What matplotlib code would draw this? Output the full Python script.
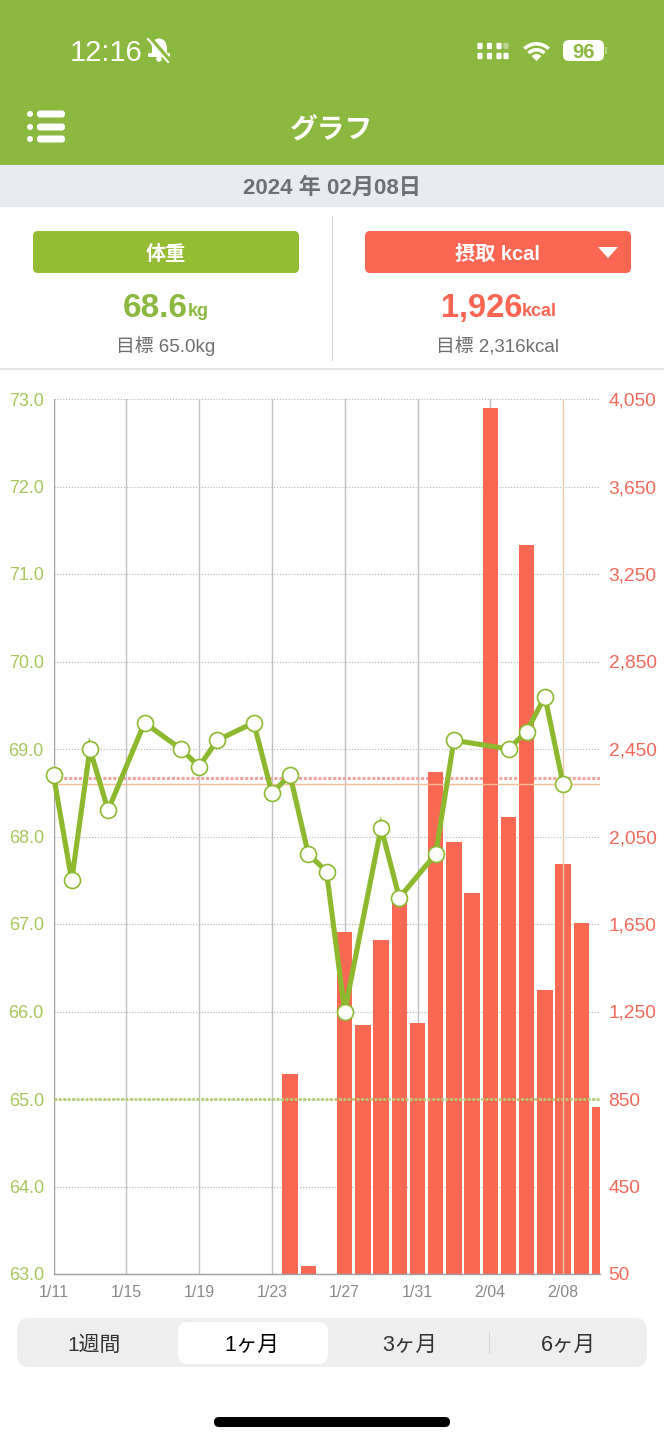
import matplotlib
matplotlib.use("Agg")
import matplotlib.pyplot as plt
from matplotlib.patches import Rectangle, FancyBboxPatch, Wedge, Circle, Polygon

plt.rcParams["font.family"] = ["Liberation Sans", "Noto Sans CJK JP", "DejaVu Sans"]

GREEN = "#8BB83F"
LINE_GREEN = "#8DB92F"
BTN_GREEN = "#94BC34"
RED = "#FA6652"
BAR_RED = "#F96853"
TICK_GREEN = "#A9C65C"

# days counted from 1/11
weight_days = [0, 1, 2, 3, 5, 7, 8, 9, 11, 12, 13, 14, 15, 16, 18, 19, 21, 22, 25, 26, 27, 28]
weight_vals = [68.7, 67.5, 69.0, 68.3, 69.3, 69.0, 68.8, 69.1, 69.3, 68.5, 68.7,
               67.8, 67.6, 66.0, 68.1, 67.3, 67.8, 69.1, 69.0, 69.2, 69.6, 68.6]
kcal_days = [13, 14, 16, 17, 18, 19, 20, 21, 22, 23, 24, 25, 26, 27, 28, 29, 30]
kcal_vals = [964, 87, 1613, 1188, 1577, 1770, 1197, 2345, 2025, 1792, 4009, 2141, 3383, 1348, 1926, 1655, 813]

x_ticks = [0, 4, 8, 12, 16, 20, 24, 28]
x_labels = ["1/11", "1/15", "1/19", "1/23", "1/27", "1/31", "2/04", "2/08"]
weight_ticks = [63, 64, 65, 66, 67, 68, 69, 70, 71, 72, 73]
kcal_ticks = [50, 450, 850, 1250, 1650, 2050, 2450, 2850, 3250, 3650, 4050]

weight_goal = 65.0
kcal_goal = 2316
current_day = 28
current_weight = 68.6

W, H = 664, 1440
fig = plt.figure(figsize=(W / 100, H / 100), dpi=100, facecolor="white")

# chart, bars sit on the kcal axis below the weight axis
L, R, T, B = 53.5, 599.5, 399, 1274
ax_k = fig.add_axes([L / W, 1 - B / H, (R - L) / W, (B - T) / H], zorder=1)
ax_w = ax_k.twinx()
ax_w.set_zorder(2)
ax_w.patch.set_visible(False)

ax_k.set_xlim(0, 30)
ax_k.set_ylim(50, 4050)
ax_w.set_ylim(63, 73)

for y in kcal_ticks:
    ax_k.axhline(y, color="#B4B4B4", lw=0.8, ls=(0, (1, 1.6)), zorder=1)
for x in x_ticks[1:-1]:
    ax_k.axvline(x, color="#C0C0C5", lw=1.0, zorder=1)
ax_k.axvline(0, color="#A0A0A0", lw=1.0, zorder=1)
ax_k.axhline(kcal_goal, color="#F5A3A0", lw=2.2, ls=(0, (1, 0.6)), zorder=1.5)
ax_k.bar(kcal_days, kcal_vals, width=0.85, color=BAR_RED, zorder=2)

ax_w.axhline(weight_goal, color="#B5CC72", lw=2.0, ls=(0, (1, 0.6)), zorder=1)
ax_w.axhline(current_weight, color="#F7BE95", lw=1.0, zorder=1)
ax_w.axvline(current_day, color="#EDC6A4", lw=1.0, zorder=1)
ax_w.plot(weight_days, weight_vals, color=LINE_GREEN, lw=3.7, solid_joinstyle="miter",
          marker="o", ms=11.5, mfc="white", mec=LINE_GREEN, mew=1.2, zorder=3, clip_on=False)

for a in (ax_k, ax_w):
    for s in a.spines.values():
        s.set_visible(False)
ax_k.spines["bottom"].set_visible(True)
ax_k.spines["bottom"].set_color("#A0A0A0")
ax_k.spines["bottom"].set_linewidth(1.0)

ax_k.set_xticks(x_ticks)
ax_k.set_xticklabels(x_labels, fontsize=11.5, color="#8A8A8A")
ax_k.tick_params(axis="x", length=0, pad=8)
ax_k.set_yticks(kcal_ticks)
ax_k.set_yticklabels([f"{v:,}" for v in kcal_ticks], fontsize=13.8, color="#F2695A")
ax_k.yaxis.tick_right()
ax_k.tick_params(axis="y", length=0, pad=6.5)
ax_w.yaxis.tick_left()
ax_w.set_yticks(weight_ticks)
ax_w.set_yticklabels([f"{v:.1f}" for v in weight_ticks], fontsize=13, color=TICK_GREEN)
ax_w.tick_params(axis="y", length=0, pad=7)

# app chrome in pixel coordinates
ui = fig.add_axes([0, 0, 1, 1], zorder=3)
ui.set_xlim(0, W)
ui.set_ylim(H, 0)
ui.axis("off")


def box(x0, y0, x1, y1, color, r=0):
    if r:
        ui.add_patch(FancyBboxPatch((x0 + r, y0 + r), x1 - x0 - 2 * r, y1 - y0 - 2 * r,
                                    boxstyle=f"round,pad={r},rounding_size={r}", fc=color, ec="none"))
    else:
        ui.add_patch(Rectangle((x0, y0), x1 - x0, y1 - y0, fc=color, ec="none"))


def label(x, y, s, size, color, weight="normal", ha="center"):
    ui.text(x, y, s, fontsize=size, color=color, fontweight=weight, ha=ha, va="center_baseline")


box(0, 0, W, 165, GREEN)
box(0, 165, W, 207, "#E9EBF0")
box(332, 216, 333, 361, "#D0D0D3")
box(0, 368, W, 370, "#E6E6E8")

# status bar
label(70, 50, "12:16", 21, "white", ha="left")
ui.add_patch(Wedge((159, 46), 7.5, 180, 360, fc="white", ec="none"))
box(151.5, 46, 166.5, 55, "white")
box(148, 53, 170, 57, "white", r=1.5)
ui.add_patch(Circle((159, 59), 2.8, fc="white", ec="none"))
ui.plot([150, 170], [38, 61], color=GREEN, lw=3.0)
ui.plot([148, 168], [39, 62], color="white", lw=1.5)
for col, cx in enumerate([480, 489.5, 499, 506]):
    for cy in (46, 56):
        c = "white" if col < 3 or cy == 56 else "#B9D48E"
        box(cx - 2.6, cy - 3.2, cx + 2.6, cy + 3.2, c, r=1.2)
for r, w in ((19, 3.6), (13, 3.6)):
    ui.add_patch(Wedge((536.5, 61), r, 225, 315, width=w, fc="white", ec="none"))
ui.add_patch(Wedge((536.5, 61), 7, 225, 315, fc="white", ec="none"))
box(563, 40, 604, 61, "white", r=6)
box(605, 47, 607, 54, "#B9D48E")
label(583.5, 50.5, "96", 14.5, GREEN, weight="bold")

# title row
for cy in (114, 127, 139):
    ui.add_patch(Circle((30, cy), 3, fc="white", ec="none"))
    box(37, cy - 3.5, 65, cy + 3.5, "white", r=3)
label(332, 127, "グラフ", 20, "white", weight="bold")
label(332, 186, "2024 年 02月08日", 16, "#6F6F76", weight="bold")

# summary
box(33, 231, 299, 273, BTN_GREEN, r=5)
box(365, 231, 631, 273, RED, r=5)
label(166, 252, "体重", 14.5, "white", weight="bold")
label(497, 252, "摂取 kcal", 14.5, "white", weight="bold")
ui.add_patch(Polygon([(598, 247), (618, 247), (608, 258)], fc="white", ec="none"))
label(188, 305, "68.6", 24, GREEN, weight="bold", ha="right")
label(188, 309, "kg", 13, GREEN, weight="bold", ha="left")
label(522, 305, "1,926", 23.5, RED, weight="bold", ha="right")
label(522, 309, "kcal", 13, RED, weight="bold", ha="left")
label(166, 344, "目標 65.0kg", 13.5, "#6E6E6E")
label(498, 344, "目標 2,316kcal", 13.5, "#6E6E6E")

# range selector
box(17, 1318, 647, 1367, "#EEEEEF", r=12)
box(178, 1322, 328, 1364, "white", r=10)
box(489, 1332, 490, 1354, "#D4D4D6")
label(94, 1343, "1週間", 15, "#333333")
label(252, 1343, "1ヶ月", 15.5, "#000000")
label(410, 1343, "3ヶ月", 15.5, "#333333")
label(568, 1343, "6ヶ月", 15.5, "#333333")
box(214, 1417, 450, 1427, "black", r=5)

fig.savefig("out.png", dpi=100)
